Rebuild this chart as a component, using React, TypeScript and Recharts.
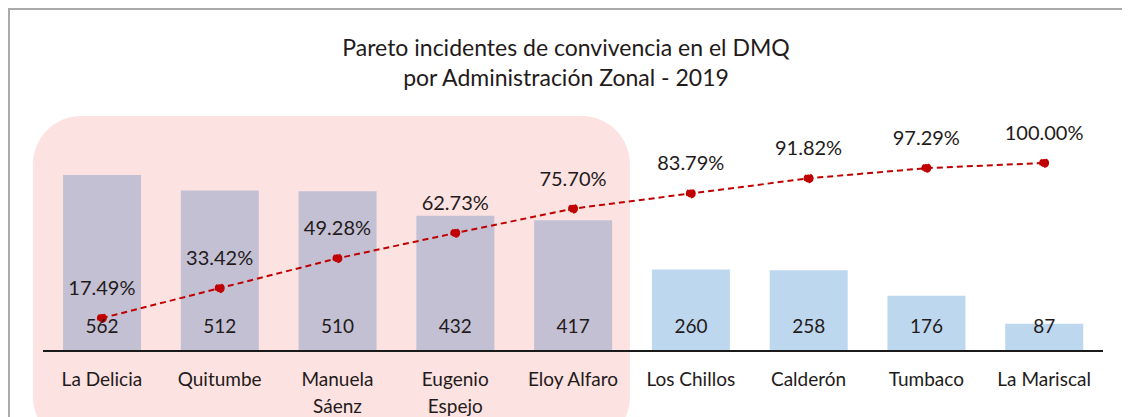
import React from 'react';
import { ComposedChart, Bar, Line, XAxis, YAxis, Cell, LabelList, ReferenceArea } from 'recharts';

const zones = ['La Delicia', 'Quitumbe', 'Manuela Sáenz', 'Eugenio Espejo', 'Eloy Alfaro', 'Los Chillos', 'Calderón', 'Tumbaco', 'La Mariscal'];
const tickLines = [['La Delicia'], ['Quitumbe'], ['Manuela', 'Sáenz'], ['Eugenio', 'Espejo'], ['Eloy Alfaro'], ['Los Chillos'], ['Calderón'], ['Tumbaco'], ['La Mariscal']];
const incidents = [562, 512, 510, 432, 417, 260, 258, 176, 87];
const cumulative = [17.49, 33.42, 49.28, 62.73, 75.7, 83.79, 91.82, 97.29, 100.0];
const highlighted = ['La Delicia', 'Quitumbe', 'Manuela Sáenz', 'Eugenio Espejo', 'Eloy Alfaro'];

const FONT = 'Lato, "Noto Sans", sans-serif';
const TEXT = '#231a1a';

const data = zones.map((zone, i) => ({ zone, incidents: incidents[i], pct: cumulative[i] }));

function ZoneTick({ x, y, index }: any) {
  const lines = tickLines[index] || [];
  return (
    <g transform={`translate(${x},${y})`}>
      {lines.map((l, i) => (
        <text key={i} x={0} y={i * 27} dy={27} textAnchor="middle" fill={TEXT} fontSize={19} fontFamily={FONT}>
          {l}
        </text>
      ))}
    </g>
  );
}

// pink rounded box behind the first five zones
function Highlight({ x, y, width, height }: any) {
  return <rect x={x - 10} y={y} width={width + 8} height={height} rx={48} ry={48} fill="#fde2e2" />;
}

export default function App() {
  return (
    <div
      style={{
        position: 'relative',
        width: 1120,
        height: 407,
        borderTop: '2px solid #aaa',
        borderLeft: '2px solid #aaa',
        fontFamily: FONT,
        overflow: 'hidden',
      }}
    >
      <div style={{ position: 'absolute', left: 0, width: 1112, top: 22, textAlign: 'center', fontSize: 23, lineHeight: '30px', color: TEXT }}>
        Pareto incidentes de convivencia en el DMQ
        <br />
        por Administración Zonal - 2019
      </div>
      <ComposedChart
        width={1120}
        height={407}
        data={data}
        margin={{ top: 153, right: 27, left: 33, bottom: 6 }}
        barCategoryGap="17%"
        style={{ position: 'absolute', left: 0, top: 0 }}
      >
        <ReferenceArea
          x1="La Delicia"
          x2="Eloy Alfaro"
          yAxisId="count"
          y1={-300}
          y2={750}
          ifOverflow="visible"
          shape={<Highlight />}
        />
        <XAxis
          dataKey="zone"
          height={60}
          stroke="#1a1a1a"
          strokeWidth={2}
          tickLine={false}
          interval={0}
          tick={<ZoneTick />}
        />
        <YAxis yAxisId="count" domain={[0, 600]} hide />
        <YAxis yAxisId="pct" orientation="right" domain={[0, 100]} hide />
        <Bar yAxisId="count" dataKey="incidents" isAnimationActive={false}>
          {data.map((d) => (
            <Cell key={d.zone} fill={highlighted.includes(d.zone) ? '#c3c0d4' : '#bdd7ee'} />
          ))}
          <LabelList dataKey="incidents" position="insideBottom" offset={18} fill={TEXT} fontSize={19} fontFamily={FONT} />
        </Bar>
        <Line
          yAxisId="pct"
          dataKey="pct"
          stroke="#c00000"
          strokeWidth={2}
          strokeDasharray="6 4"
          dot={{ r: 4, fill: '#c00000', stroke: '#c00000' }}
          isAnimationActive={false}
        >
          <LabelList
            dataKey="pct"
            position="top"
            offset={23}
            fill={TEXT}
            fontSize={20}
            fontFamily={FONT}
            formatter={(v: any) => `${Number(v).toFixed(2)}%`}
          />
        </Line>
      </ComposedChart>
    </div>
  );
}
